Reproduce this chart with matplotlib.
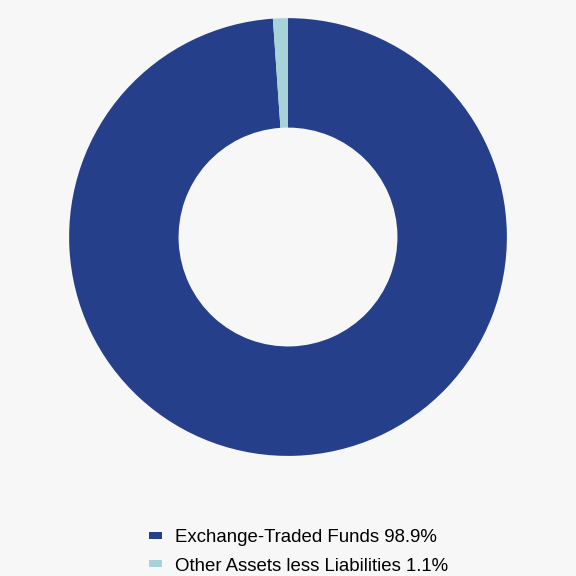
import matplotlib.pyplot as plt

plt.rcParams['font.family'] = ['Liberation Sans', 'DejaVu Sans']

labels = ['Exchange-Traded Funds', 'Other Assets less Liabilities']
values = [98.9, 1.1]
colors = ['#253f8a', '#a6d2d8']
bg = '#f7f7f8'

fig = plt.figure(figsize=(5.76, 5.76), dpi=100, facecolor=bg)
ax = fig.add_axes([0.5 - 0.38, 0.5885 - 0.38, 0.76, 0.76])
ax.set_facecolor(bg)

wedges, _ = ax.pie(values, colors=colors, startangle=90, counterclock=False,
                   radius=1.0, wedgeprops=dict(width=0.5, edgecolor='none'))
ax.set_xlim(-1, 1)
ax.set_ylim(-1, 1)
ax.set_aspect('equal')
ax.axis('off')

legend_labels = [f'{l} {v}%' for l, v in zip(labels, values)]
fig.legend(wedges, legend_labels, loc='upper left', bbox_to_anchor=(0.258, 0.0816),
           frameon=False, fontsize=13.4, handlelength=0.7, handleheight=0.2,
           handletextpad=0.7, labelspacing=0.62, borderaxespad=0, borderpad=0)

fig.savefig('out.png', dpi=100, facecolor=bg)
